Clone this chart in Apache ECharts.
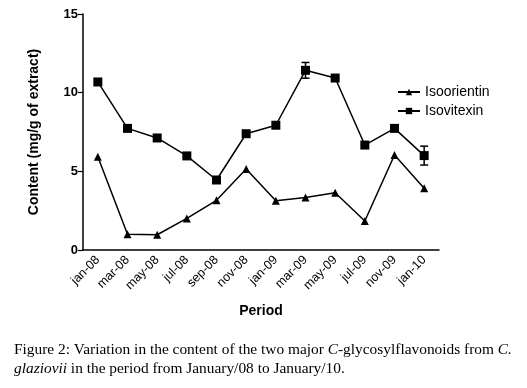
<!DOCTYPE html>
<html>
<head>
<meta charset="utf-8">
<script src="https://cdn.jsdelivr.net/npm/echarts@6/dist/echarts.min.js"></script>
<style>
  html, body { margin: 0; padding: 0; background: #fff; }
  #fig2 { width: 527px; height: 388px; }
</style>
</head>
<body>
<div id="fig2"></div>
<script>
var periods = ['jan-08', 'mar-08', 'may-08', 'jul-08', 'sep-08', 'nov-08',
    'jan-09', 'mar-09', 'may-09', 'jul-09', 'nov-09', 'jan-10'];
var isoorientin = [5.93, 1.0, 0.97, 2.01, 3.16, 5.15, 3.13, 3.33, 3.64, 1.84, 6.04, 3.92];
var isovitexin = [10.68, 7.73, 7.12, 5.98, 4.45, 7.39, 7.93, 11.42, 10.93, 6.67, 7.73, 6.0];
var isovitexinErr = [0, 0, 0, 0, 0, 0, 0, 0.5, 0, 0, 0, 0.6];
var yTicks = [0, 5, 10, 15];

var font = 'Liberation Sans, Arial, sans-serif';

var errData = [];
for (let i = 0; i < periods.length; i++) {
    if (isovitexinErr[i] > 0) {
        errData.push([i, isovitexin[i] - isovitexinErr[i], isovitexin[i] + isovitexinErr[i]]);
    }
}

var chart = echarts.init(document.getElementById('fig2'));
chart.setOption({
    animation: false,
    backgroundColor: '#fff',
    grid: { left: 83, right: 88, top: 14, bottom: 138 },
    legend: {
        orient: 'vertical',
        left: 392,
        top: 80,
        itemWidth: 22,
        itemHeight: 8,
        itemGap: 5,
        data: ['Isoorientin', 'Isovitexin'],
        textStyle: { fontFamily: font, fontSize: 14, color: '#000' }
    },
    xAxis: {
        type: 'category',
        data: periods,
        boundaryGap: true,
        name: 'Period',
        nameLocation: 'middle',
        nameGap: 54,
        nameTextStyle: { fontFamily: font, fontSize: 14, fontWeight: 'bold', color: '#000' },
        axisLine: { lineStyle: { color: '#000', width: 1.5 } },
        axisTick: { alignWithLabel: true, length: 5, lineStyle: { color: '#000', width: 1.2 } },
        axisLabel: { rotate: 45, fontFamily: font, fontSize: 12.5, color: '#000', margin: 8 },
        splitLine: { show: false }
    },
    yAxis: {
        type: 'value',
        min: 0,
        max: 15,
        interval: 5,
        name: 'Content (mg/g of extract)',
        nameLocation: 'middle',
        nameGap: 42,
        nameTextStyle: { fontFamily: font, fontSize: 14, fontWeight: 'bold', color: '#000' },
        axisLine: { show: true, lineStyle: { color: '#000', width: 1.5 } },
        axisTick: { show: true, length: 5, lineStyle: { color: '#000', width: 1.2 } },
        axisLabel: {
            fontFamily: font, fontSize: 13, fontWeight: 'bold', color: '#000', margin: 5,
            formatter: function (v) { return yTicks.indexOf(v) >= 0 ? String(v) : ''; }
        },
        splitLine: { show: false }
    },
    series: [
        {
            name: 'Isoorientin',
            type: 'line',
            data: isoorientin,
            symbol: 'triangle',
            symbolSize: 8,
            itemStyle: { color: '#000' },
            lineStyle: { color: '#000', width: 1.5 }
        },
        {
            name: 'Isovitexin',
            type: 'line',
            data: isovitexin,
            symbol: 'rect',
            symbolSize: 9,
            itemStyle: { color: '#000' },
            lineStyle: { color: '#000', width: 1.5 }
        },
        {
            name: 'err',
            type: 'custom',
            data: errData,
            z: 5,
            renderItem: function (params, api) {
                var x = api.value(0);
                var lo = api.coord([x, api.value(1)]);
                var hi = api.coord([x, api.value(2)]);
                var hw = 4;
                var st = { stroke: '#000', lineWidth: 1.5 };
                return {
                    type: 'group',
                    children: [
                        { type: 'line', shape: { x1: lo[0], y1: lo[1], x2: hi[0], y2: hi[1] }, style: st },
                        { type: 'line', shape: { x1: lo[0] - hw, y1: lo[1], x2: lo[0] + hw, y2: lo[1] }, style: st },
                        { type: 'line', shape: { x1: hi[0] - hw, y1: hi[1], x2: hi[0] + hw, y2: hi[1] }, style: st }
                    ]
                };
            }
        }
    ],
    graphic: [
        {
            type: 'text',
            left: 14,
            top: 342,
            style: {
                text: '{n|Figure 2: Variation in the content of the two major }{i|C}{n|-glycosylflavonoids from }{i|C.}\n{i|glaziovii}{n| in the period from January/08 to January/10.}',
                rich: {
                    n: { fontFamily: 'Liberation Serif, Times New Roman, serif', fontSize: 15.4, lineHeight: 19, fill: '#000' },
                    i: { fontFamily: 'Liberation Serif, Times New Roman, serif', fontSize: 15.4, lineHeight: 19, fontStyle: 'italic', fill: '#000' }
                }
            }
        }
    ]
});
</script>
</body>
</html>
